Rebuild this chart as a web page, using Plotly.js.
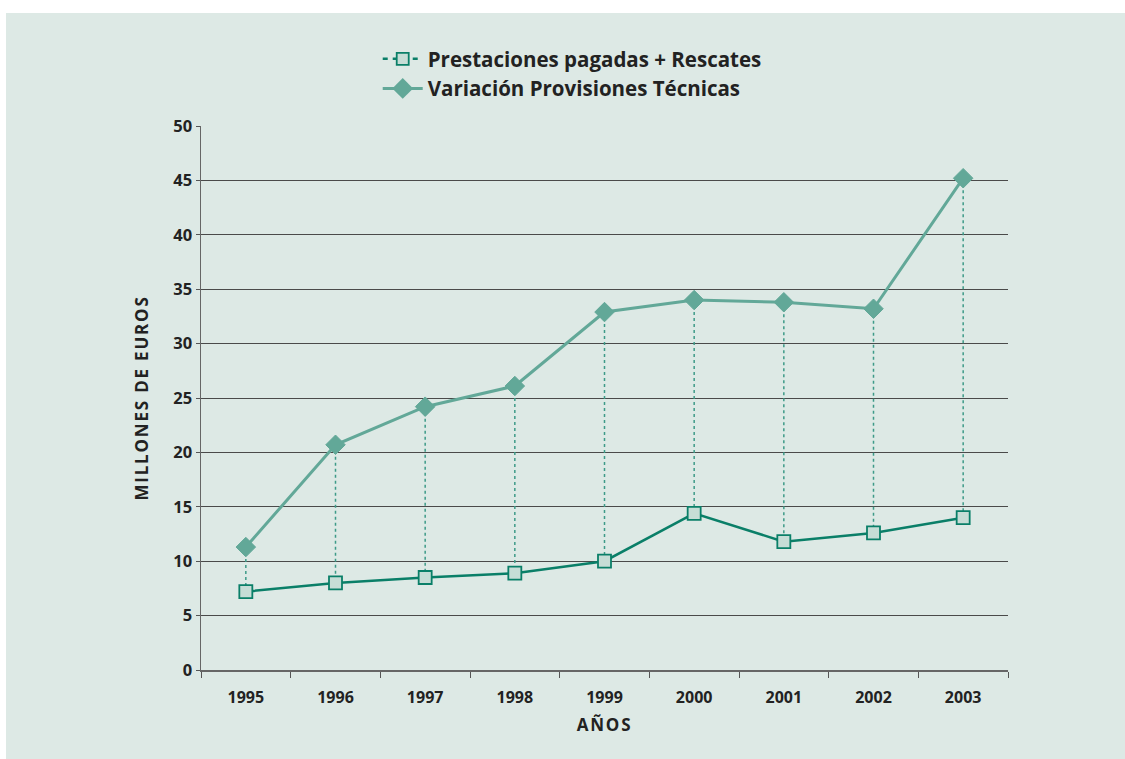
<!DOCTYPE html>
<html>
<head>
<meta charset="utf-8">
<script src="https://cdn.plot.ly/plotly-3.0.1.min.js"></script>
<style>
  html, body { margin: 0; padding: 0; background: #ffffff; width: 1125px; height: 759px; overflow: hidden; }
  #chart { position: absolute; left: 6px; top: 13px; width: 1119px; height: 746px; }
  #chart .g-xtitle text, #chart .g-ytitle text { letter-spacing: 1.8px; }
</style>
</head>
<body>
<div id="chart"></div>
<script>
const years = ['1995','1996','1997','1998','1999','2000','2001','2002','2003'];
const prestaciones = [7.2, 8.0, 8.5, 8.9, 10.0, 14.4, 11.8, 12.6, 14.0];
const variacion = [11.3, 20.7, 24.2, 26.1, 32.9, 34.0, 33.8, 33.2, 45.2];
const nameA = 'Prestaciones pagadas + Rescates';
const nameB = 'Variación Provisiones Técnicas';

const colA = '#0a7f68';
const colB = '#62a898';
const fill = '#c6ddd6';
const dropCol = '#3d9a88';

// vertical dotted connectors built from the data arrays
const dropX = [], dropY = [];
years.forEach((yr, i) => {
  dropX.push(yr, yr, null);
  dropY.push(variacion[i], prestaciones[i], null);
});

const font = "'Open Sans', 'DejaVu Sans', sans-serif";

const traces = [
  { x: dropX, y: dropY, type: 'scatter', mode: 'lines', showlegend: false, hoverinfo: 'skip',
    line: { color: dropCol, width: 1.5, dash: 'dot' } },
  { x: years, y: variacion, type: 'scatter', mode: 'lines+markers', showlegend: false,
    line: { color: colB, width: 3 },
    marker: { symbol: 'diamond', size: 15, color: colB, line: { color: colB, width: 1 } } },
  { x: years, y: prestaciones, type: 'scatter', mode: 'lines+markers', showlegend: false,
    line: { color: colA, width: 2.5 },
    marker: { symbol: 'square', size: 13, color: fill, line: { color: colA, width: 1.8 } } },
  // legend entries
  { x: [null], y: [null], type: 'scatter', mode: 'lines+markers', name: nameA,
    line: { color: colA, width: 2.5, dash: '5px,5px' },
    marker: { symbol: 'square', size: 12, color: fill, line: { color: colA, width: 1.8 } } },
  { x: [null], y: [null], type: 'scatter', mode: 'lines+markers', name: nameB,
    line: { color: colB, width: 3 },
    marker: { symbol: 'diamond', size: 17, color: colB } }
];

const layout = {
  width: 1119, height: 746,
  paper_bgcolor: '#dde9e5', plot_bgcolor: '#dde9e5',
  margin: { l: 195, r: 117, t: 113, b: 89 },
  font: { family: font, color: '#222222' },
  showlegend: true,
  legend: {
    x: 0.46, xanchor: 'center', y: 1.16, yanchor: 'top',
    bgcolor: 'rgba(0,0,0,0)', traceorder: 'normal',
    font: { family: font, size: 20.5, color: '#222222', weight: 'bold' },
    tracegroupgap: 0, itemwidth: 40
  },
  xaxis: {
    type: 'category', categoryorder: 'array', categoryarray: years,
    range: [-0.5, 8.5], tickson: 'boundaries', ticks: 'outside', ticklen: 6, tickcolor: '#555', tickwidth: 1,
    ticklabelstandoff: 12,
    showline: true, linecolor: '#666', linewidth: 1.5, showgrid: false, zeroline: false,
    tickfont: { family: font, size: 16, color: '#222', weight: 'bold' },
    title: { text: 'AÑOS', font: { family: font, size: 17, color: '#222', weight: 'bold' }, standoff: 12 },
    fixedrange: true
  },
  xaxis2: {
    overlaying: 'x', type: 'linear', range: [-0.5, 8.5], tick0: -0.5, dtick: 1,
    ticks: 'inside', ticklen: 6, tickcolor: '#555', tickwidth: 1,
    showticklabels: false, showgrid: false, zeroline: false, showline: false, anchor: 'y', side: 'bottom'
  },
  yaxis: {
    range: [0, 50], dtick: 5, tick0: 0,
    ticks: 'outside', ticklen: 4, tickcolor: '#555',
    showline: true, linecolor: '#666', linewidth: 1.5,
    showgrid: true, gridcolor: '#4a4a4a', gridwidth: 1, zeroline: false,
    tickfont: { family: font, size: 16.5, color: '#222', weight: 'bold' },
    title: { text: 'MILLONES DE EUROS', font: { family: font, size: 17, color: '#222', weight: 'bold' }, standoff: 20 },
    fixedrange: true
  }
};

Plotly.newPlot('chart', traces, layout, { displayModeBar: false, staticPlot: true });
</script>
</body>
</html>
